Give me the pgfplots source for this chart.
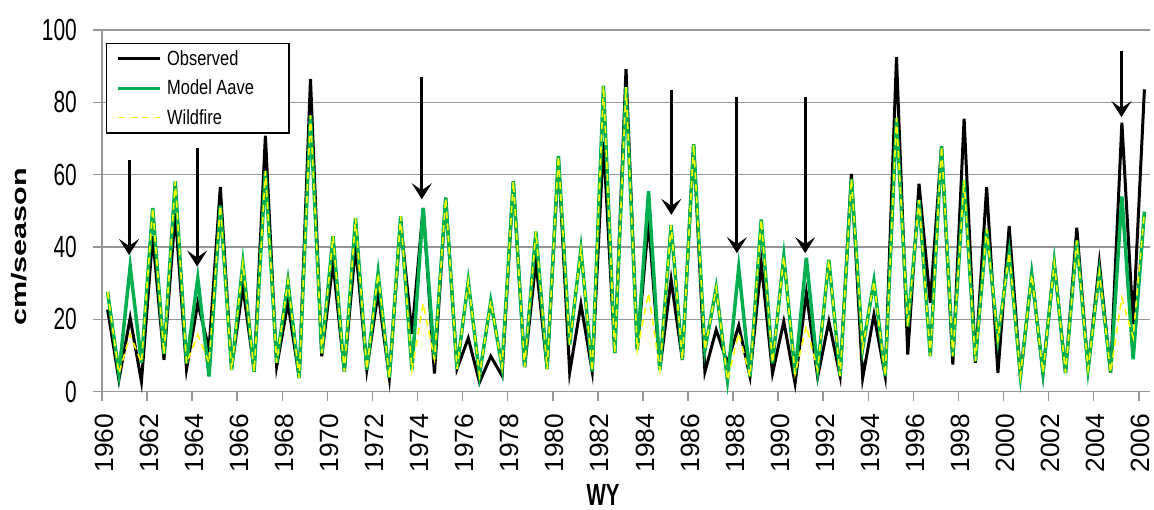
\documentclass[border=0pt]{standalone}
\usepackage{fontspec}
\setmainfont{Liberation Sans}
\usepackage{graphicx}
\usepackage{pgfplots}
\pgfplotsset{compat=1.18}
\usepackage{pgfplotstable}
\usetikzlibrary{arrows.meta}
\definecolor{modgreen}{RGB}{0,176,80}
\definecolor{wfyellow}{RGB}{255,255,0}
\definecolor{gridgray}{RGB}{150,150,150}
\newcommand{\yt}[1]{\scalebox{1}[1.46]{#1}}
\newcommand{\legtxt}[1]{\makebox[107bp][l]{\scalebox{1}[1.25]{#1}}}

\pgfplotstableread{
t O M W
1960.25 22.7 27.6 27.6
1960.75 3.3 5.0 5.0
1961.25 20.4 34.6 15.8
1961.75 2.8 8.0 8.0
1962.25 43.0 50.8 50.8
1962.75 8.8 10.4 10.4
1963.25 49.4 58.2 58.2
1963.75 6.2 7.8 7.8
1964.25 24.5 31.4 15.7
1964.75 11.8 4.2 8.0
1965.25 56.6 51.5 51.5
1965.75 6.5 6.0 6.0
1966.25 29.0 35.6 35.6
1966.75 6.0 5.5 5.5
1967.25 70.8 61.0 61.0
1967.75 7.0 8.0 8.0
1968.25 24.6 30.6 30.6
1968.75 3.8 3.8 3.8
1969.25 86.5 76.4 76.4
1969.75 9.8 10.6 10.6
1970.25 35.7 43.0 43.0
1970.75 5.6 5.6 5.6
1971.25 40.4 48.0 48.0
1971.75 6.1 6.1 6.1
1972.25 27.5 32.8 32.8
1972.75 3.8 3.8 3.8
1973.25 47.0 48.5 48.5
1973.75 16.0 6.0 6.0
1974.25 50.8 50.8 24.4
1974.75 5.0 9.0 9.0
1975.25 53.6 53.6 53.6
1975.75 6.3 6.3 6.3
1976.25 14.8 30.5 30.5
1976.75 2.6 4.6 4.6
1977.25 9.8 25.0 25.0
1977.75 4.4 6.8 6.8
1978.25 58.2 58.2 58.2
1978.75 6.8 6.8 6.8
1979.25 36.0 44.3 44.3
1979.75 6.3 6.3 6.3
1980.25 64.5 65.2 65.2
1980.75 5.3 13.0 13.0
1981.25 24.2 39.4 39.4
1981.75 5.6 5.6 5.6
1982.25 69.1 84.6 84.6
1982.75 10.7 10.7 10.7
1983.25 89.2 84.2 84.2
1983.75 11.6 11.6 11.6
1984.25 47.4 55.4 27.3
1984.75 6.0 6.0 6.0
1985.25 31.0 46.0 46.0
1985.75 8.8 8.8 8.8
1986.25 68.4 68.4 68.4
1986.75 5.5 11.5 11.5
1987.25 17.1 28.7 28.7
1987.75 7.9 3.2 3.2
1988.25 18.3 34.2 16.2
1988.75 4.2 4.2 4.2
1989.25 35.6 47.6 47.6
1989.75 5.1 7.9 7.9
1990.25 19.4 37.4 37.4
1990.75 2.3 4.9 4.9
1991.25 27.3 37.0 18.2
1991.75 4.1 6.0 6.0
1992.25 19.4 36.5 36.5
1992.75 4.3 4.3 4.3
1993.25 60.2 58.9 58.9
1993.75 3.8 12.0 12.0
1994.25 21.3 30.6 30.6
1994.75 4.3 4.3 4.3
1995.25 92.5 75.6 75.6
1995.75 10.3 18.0 18.0
1996.25 57.5 53.0 53.0
1996.75 24.6 9.8 9.8
1997.25 67.9 67.9 67.9
1997.75 7.5 9.8 9.8
1998.25 75.5 58.4 58.4
1998.75 8.0 8.4 8.4
1999.25 56.5 45.0 45.0
1999.75 5.2 14.4 14.4
2000.25 45.8 38.5 38.5
2000.75 4.3 4.3 4.3
2001.25 32.4 32.4 32.4
2001.75 5.2 5.2 5.2
2002.25 35.6 35.6 35.6
2002.75 5.2 5.2 5.2
2003.25 45.3 41.8 41.8
2003.75 6.2 6.2 6.2
2004.25 35.6 33.0 33.0
2004.75 5.3 5.3 5.3
2005.25 74.4 54.0 26.0
2005.75 18.7 9.0 15.0
2006.25 83.6 49.8 49.8
}\snow

\begin{document}
\begin{tikzpicture}
\begin{axis}[
  at={(0,0)}, anchor=south west,
  scale only axis, width=1048bp, height=361.7bp,
  xmin=1960, xmax=2006.5, ymin=0, ymax=100,
  axis x line*=bottom, axis y line*=left,
  axis line style={gridgray, line width=1.5bp, -},
  xtick={1960,1962,...,2006},
  ytick={0,20,...,100},
  yticklabels={\yt{0},\yt{20},\yt{40},\yt{60},\yt{80},\yt{100}},
  xticklabel={\pgfmathprintnumber[1000 sep={},fixed,precision=0,assume math mode=true]{\tick}},
  tick align=outside,
  major tick length=9bp,
  tick style={gridgray, line width=1.5bp},
  ymajorgrids, grid style={gridgray, line width=1.5bp},
  xticklabel style={font=\fontsize{26.5}{28}\selectfont, xshift=2bp, rotate=90, anchor=east, inner sep=0pt},
  yticklabel style={font=\fontsize{21}{22}\selectfont, anchor=east, inner sep=0pt},
  xticklabel shift=13bp,
  yticklabel shift=16bp,
  xlabel={\scalebox{1}[1.5]{WY}},
  xlabel style={at={(axis description cs:0.478,-0.286)}, anchor=center, font=\fontsize{20.5}{22}\selectfont\bfseries},
  ylabel={\scalebox{1.46}[1]{cm/season}},
  ylabel style={at={(axis description cs:-0.0792,0.4)}, anchor=center, font=\fontsize{21}{22}\selectfont\bfseries},
  no markers,
  legend style={at={(axis description cs:0.0038,0.964)}, anchor=north west, draw=black, line width=1.4bp, fill=white,
    font=\fontsize{16.5}{18}\selectfont, inner xsep=10bp, inner ysep=2bp, row sep=3bp,
    nodes={inner sep=5bp}},
  legend cell align=left,
  legend image code/.code={\draw[#1] (0bp,0bp) -- (42bp,0bp);},
  clip=false,
]
\addplot[black, line width=3bp] table[x=t,y=O]{\snow};
\addlegendentry{\legtxt{Observed}}
\addplot[modgreen, line width=3.5bp] table[x=t,y=M]{\snow};
\addlegendentry{\legtxt{Model Aave}}
\addplot[wfyellow, line width=1.6bp, dash pattern=on 7bp off 5bp] table[x=t,y=W]{\snow};
\addlegendentry{\legtxt{Wildfire}}

\draw[black, line width=3bp, -{Stealth[length=16bp,width=20bp,inset=7bp]}] (axis cs:1961.2,64.1) -- (axis cs:1961.2,37.8);
\draw[black, line width=3bp, -{Stealth[length=16bp,width=20bp,inset=7bp]}] (axis cs:1964.22,67.3) -- (axis cs:1964.22,34.6);
\draw[black, line width=3bp, -{Stealth[length=16bp,width=20bp,inset=7bp]}] (axis cs:1974.19,87.1) -- (axis cs:1974.19,53.2);
\draw[black, line width=3bp, -{Stealth[length=16bp,width=20bp,inset=7bp]}] (axis cs:1985.26,83.4) -- (axis cs:1985.26,48.9);
\draw[black, line width=3bp, -{Stealth[length=16bp,width=20bp,inset=7bp]}] (axis cs:1988.17,81.6) -- (axis cs:1988.17,38.3);
\draw[black, line width=3bp, -{Stealth[length=16bp,width=20bp,inset=7bp]}] (axis cs:1991.2,81.6) -- (axis cs:1991.2,38.3);
\draw[black, line width=3bp, -{Stealth[length=16bp,width=20bp,inset=7bp]}] (axis cs:2005.23,94.3) -- (axis cs:2005.23,75.9);
\end{axis}
\pgfresetboundingbox
\path[use as bounding box] (-102bp,-118.3bp) rectangle (1052bp,391.7bp);
\end{tikzpicture}
\end{document}
